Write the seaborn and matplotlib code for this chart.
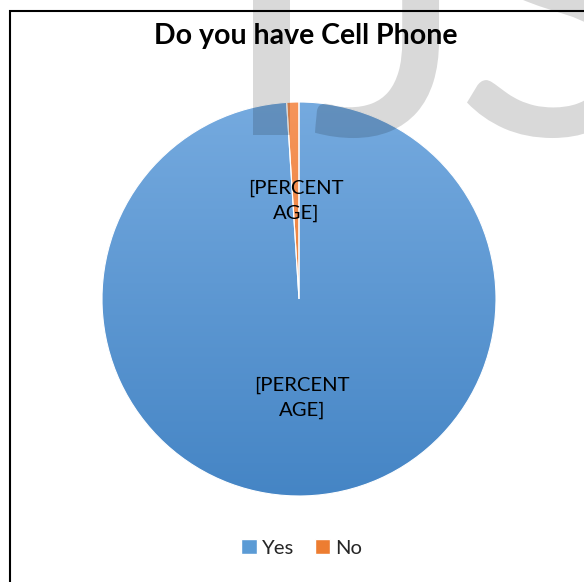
import numpy as np
import matplotlib
matplotlib.use("Agg")
import matplotlib.pyplot as plt
from matplotlib.patches import Patch, Rectangle, PathPatch
from matplotlib.colors import LinearSegmentedColormap
from matplotlib.textpath import TextPath
from matplotlib.font_manager import FontProperties
from matplotlib.transforms import Affine2D
import seaborn as sns

title = "Do you have Cell Phone"
categories = ["Yes", "No"]
shares = [99, 1]
label_text = "[PERCENT\nAGE]"

sns.set_theme(style="white")
plt.rcParams["font.family"] = ["Lato", "DejaVu Sans"]

palette = sns.color_palette(["#5b9bd5", "#ed7d31"])
# vertical shading for each slice: (top, bottom)
shades = [("#75aadf", "#4585c5"), ("#f6955a", "#e06e22")]

W, H = 584, 582
fig = plt.figure(figsize=(W / 100, H / 100), dpi=100)
fig.patch.set_facecolor("white")


def px(x, y):
    return x / W, 1 - y / H


cx, cy, r = 299, 299, 197
ax = fig.add_axes([(cx - r) / W, 1 - (cy + r) / H, 2 * r / W, 2 * r / H])
wedges, texts, autotexts = ax.pie(
    shares, colors=palette, startangle=90, counterclock=False,
    autopct=lambda p: label_text, pctdistance=0.5,
    wedgeprops=dict(edgecolor="white", linewidth=0.8),
    textprops=dict(fontsize=14.6, color="black", linespacing=1.55),
)

grad = np.linspace(0, 1, 256).reshape(-1, 1)
for w, (top, bot) in zip(wedges, shades):
    cmap = LinearSegmentedColormap.from_list("shade", [top, bot])
    im = ax.imshow(grad, cmap=cmap, extent=[-1, 1, -1, 1], origin="upper",
                   aspect="auto", interpolation="bilinear", zorder=0.5)
    im.set_clip_path(w)
    w.set_facecolor("none")
    w.set_zorder(1)
for t in autotexts:
    t.set_zorder(5)

ax.set_xlim(-1, 1)
ax.set_ylim(-1, 1)
ax.set_aspect("equal")
ax.axis("off")

# chart title
fig.text(*px(306, 36), title, ha="center", va="center",
         fontsize=20.5, fontweight="bold", color="black")

# legend
handles = [Patch(facecolor=c, label=l) for c, l in zip(palette, categories)]
fig.legend(handles=handles, loc="center", bbox_to_anchor=px(302, 548), ncol=2,
           frameon=False, fontsize=14.6, handlelength=0.75, handleheight=0.75,
           handletextpad=0.25, columnspacing=1.05)

# outer frame
fig.add_artist(Rectangle((10 / W, -0.1), 1.2, 1 - 11 / H + 0.1,
                         transform=fig.transFigure, fill=False,
                         edgecolor="black", linewidth=1.5, zorder=15))

# journal watermark, placed glyph by glyph in pixel space
wm_font = FontProperties(family="Lato")
wm_em = 380
wm_base = 135
for ch, ink_left in [("I", 253), ("J", 315), ("S", 467)]:
    path = TextPath((0, 0), ch, size=wm_em, prop=wm_font)
    ext = path.get_extents()
    tr = Affine2D().translate(ink_left - ext.x0, H - wm_base)
    fig.add_artist(PathPatch(path, transform=tr, facecolor="black",
                             edgecolor="none", alpha=0.15, zorder=20))

fig.savefig("out.png", dpi=100)
